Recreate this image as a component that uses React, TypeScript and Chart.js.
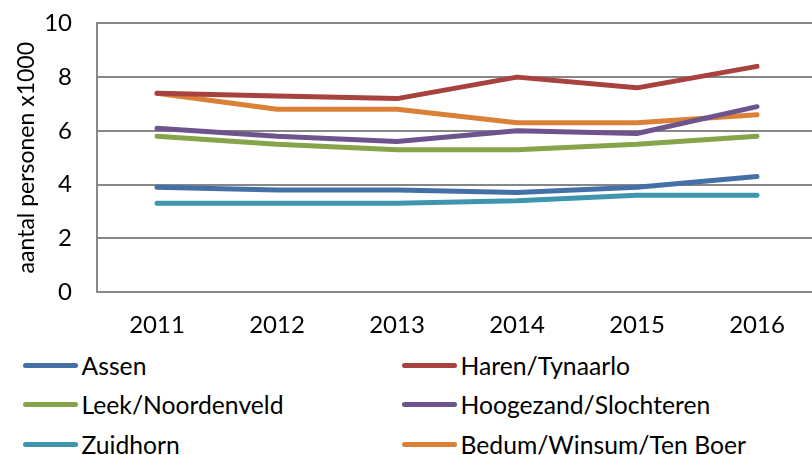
import React, { useEffect, useRef } from "react";
import { Chart, registerables } from "chart.js";

Chart.register(...registerables);

const years = ["2011", "2012", "2013", "2014", "2015", "2016"];
const seriesNames = [
  "Assen",
  "Haren/Tynaarlo",
  "Leek/Noordenveld",
  "Hoogezand/Slochteren",
  "Zuidhorn",
  "Bedum/Winsum/Ten Boer",
];
const assen = [3.9, 3.8, 3.8, 3.7, 3.9, 4.3];
const harenTynaarlo = [7.4, 7.3, 7.2, 8.0, 7.6, 8.4];
const leekNoordenveld = [5.8, 5.5, 5.3, 5.3, 5.5, 5.8];
const hoogezandSlochteren = [6.1, 5.8, 5.6, 6.0, 5.9, 6.9];
const zuidhorn = [3.3, 3.3, 3.3, 3.4, 3.6, 3.6];
const bedumWinsumTenBoer = [7.4, 6.8, 6.8, 6.3, 6.3, 6.6];
const seriesValues = [assen, harenTynaarlo, leekNoordenveld, hoogezandSlochteren, zuidhorn, bedumWinsumTenBoer];
const seriesColors = ["#4470A8", "#A8423F", "#86A44A", "#6E548D", "#3D96AE", "#DA8137"];
const yTicks = [0, 2, 4, 6, 8, 10];
const yTitle = "aantal personen x1000";

const FONT = "Lato, 'Noto Sans', sans-serif";
const GRID = "#878787";

export default function App() {
  const ref = useRef<HTMLCanvasElement | null>(null);
  useEffect(() => {
    if (!ref.current) return;
    const chart = new Chart(ref.current, {
      type: "line",
      data: {
        labels: years,
        datasets: seriesNames.map((n, i) => ({
          label: n,
          data: seriesValues[i],
          borderColor: seriesColors[i],
          backgroundColor: seriesColors[i],
          borderWidth: 5,
          borderCapStyle: "round",
          borderJoinStyle: "round",
          pointRadius: 0,
          tension: 0,
        })),
      },
      options: {
        responsive: false,
        animation: false,
        events: [],
        layout: { padding: { top: 6, left: 0, right: 0, bottom: 0 } },
        plugins: { legend: { display: false }, tooltip: { enabled: false } },
        scales: {
          x: {
            offset: true,
            grid: { display: false, drawTicks: false },
            border: { display: true, color: GRID, width: 2 },
            ticks: { color: "#000", font: { family: FONT, size: 24 }, padding: 19, maxRotation: 0 },
            afterFit: (s: any) => {
              s.height = 48;
            },
          },
          y: {
            min: 0,
            max: 10,
            afterBuildTicks: (s: any) => {
              s.ticks = yTicks.map((v) => ({ value: v }));
            },
            grid: { color: GRID, lineWidth: 2, drawTicks: false },
            border: { display: true, color: GRID, width: 2 },
            ticks: { color: "#000", font: { family: FONT, size: 24 }, padding: 25 },
            title: {
              display: true,
              text: yTitle,
              color: "#000",
              font: { family: FONT, size: 23 },
              padding: { top: 13, bottom: 0 },
            },
            afterFit: (s: any) => {
              s.width = 97;
            },
          },
        },
      },
    });
    return () => chart.destroy();
  }, []);

  const rowTops = [365, 404.5, 444];
  return (
    <div style={{ position: "absolute", left: 0, top: 0, width: 812, height: 455, overflow: "hidden", background: "#fff" }}>
      <canvas ref={ref} width={817} height={356} style={{ position: "absolute", left: 0, top: -16 }} />
      {seriesNames.map((n, i) => {
        const col = i % 2;
        const row = Math.floor(i / 2);
        const lx = col === 0 ? 22.5 : 401.5;
        const cy = rowTops[row];
        return (
          <div key={n} style={{ position: "absolute", left: lx, top: cy - 20, height: 40, display: "flex", alignItems: "center", fontFamily: FONT, fontSize: 24.7, color: "#000", whiteSpace: "nowrap" }}>
            <span style={{ display: "inline-block", width: 55, height: 5, borderRadius: 3, background: seriesColors[i], marginRight: 4 }} />
            <span>{n}</span>
          </div>
        );
      })}
    </div>
  );
}
